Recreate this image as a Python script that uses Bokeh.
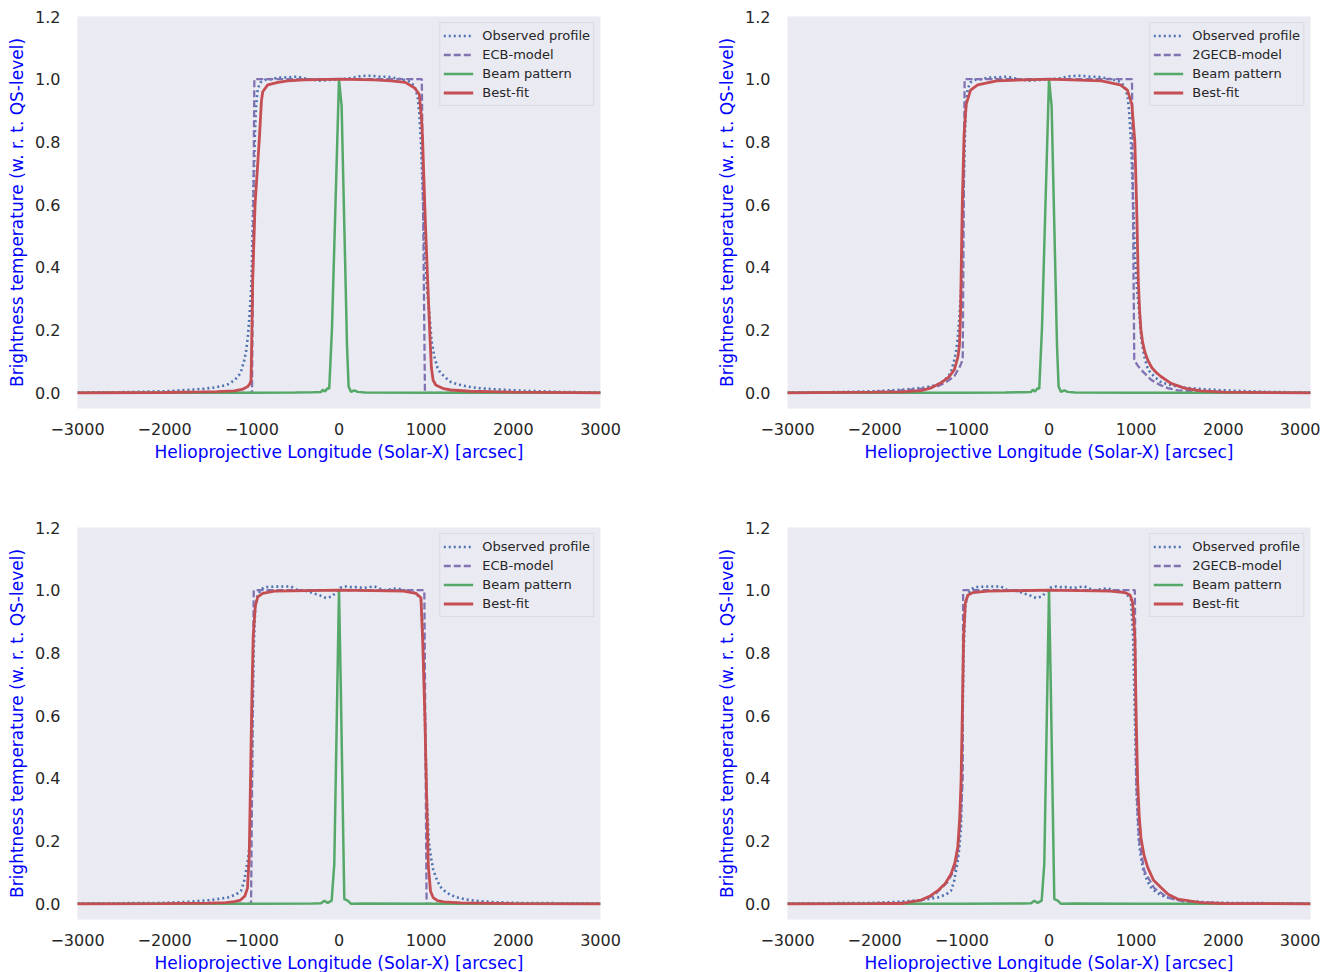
from bokeh.plotting import figure
from bokeh.layouts import column, row
from bokeh.models import FixedTicker, CustomJSTickFormatter, Range1d
from bokeh.embed import file_html
from bokeh.resources import INLINE

# ---------------- data ----------------
x_ticks = [-3000, -2000, -1000, 0, 1000, 2000, 3000]
y_ticks = [0.0, 0.2, 0.4, 0.6, 0.8, 1.0, 1.2]
x_label = "Helioprojective Longitude (Solar-X) [arcsec]"
y_label = "Brightness temperature (w. r. t. QS-level)"
legend_labels_top_left = ["Observed profile", "ECB-model", "Beam pattern", "Best-fit"]
legend_labels_2gecb = ["Observed profile", "2GECB-model", "Beam pattern", "Best-fit"]

# observed profile, top row
obs_top_x = [-3000, -2500, -2000, -1750, -1583, -1450, -1353, -1276, -1200, -1150, -1124, -1090,
             -1067, -1045, -1028, -1010, -1001, -985, -963, -952, -932, -900, -850, -780, -700,
             -600, -474, -350, -206, -100, 0, 100, 252, 329, 405, 480, 558, 640, 711, 780, 826,
             870, 902, 921, 940, 960, 985, 1010, 1036, 1060, 1093, 1130, 1160, 1208, 1280, 1361,
             1476, 1600, 1743, 1858, 2000, 2500, 3000]
obs_top_y = [0.001, 0.002, 0.005, 0.009, 0.012, 0.016, 0.021, 0.027, 0.04, 0.055, 0.068, 0.1,
             0.13, 0.18, 0.24, 0.32, 0.38, 0.6, 0.84, 0.915, 0.97, 0.99, 0.998, 1.0, 1.005,
             1.006, 1.008, 1.0, 0.995, 0.998, 1.0, 1.002, 1.01, 1.011, 1.01, 1.008, 1.008, 1.004,
             1.0, 0.996, 0.99, 0.975, 0.945, 0.89, 0.8, 0.65, 0.45, 0.33, 0.255, 0.17, 0.116,
             0.08, 0.065, 0.052, 0.035, 0.027, 0.02, 0.015, 0.012, 0.01, 0.008, 0.003, 0.001]

# observed profile, bottom row
obs_bot_x = [-3000, -2000, -1697, -1468, -1276, -1180, -1124, -1090, -1067, -1045, -1028, -1009,
             -995, -980, -960, -932, -900, -856, -760, -665, -550, -474, -416, -340, -290, -206,
             -149, -80, -30, 15, 80, 138, 214, 272, 348, 405, 470, 520, 600, 673, 750, 845, 900,
             940, 965, 985, 1005, 1030, 1055, 1080, 1112, 1160, 1208, 1280, 1361, 1450, 1552,
             1743, 2000, 3000]
obs_bot_y = [0.001, 0.003, 0.007, 0.012, 0.02, 0.03, 0.042, 0.07, 0.105, 0.14, 0.18, 0.25,
             0.5, 0.8, 0.95, 0.985, 1.0, 1.01, 1.011, 1.012, 1.012, 1.0, 1.0, 0.995, 0.99, 0.982,
             0.975, 0.98, 0.995, 1.008, 1.012, 1.01, 1.01, 1.007, 1.01, 1.012, 1.005, 1.0, 1.003,
             1.006, 1.0, 0.995, 0.985, 0.97, 0.85, 0.6, 0.35, 0.2, 0.148, 0.11, 0.084, 0.055,
             0.042, 0.028, 0.02, 0.014, 0.01, 0.006, 0.003, 0.001]

# models
ecb_top_x = [-3000, -998, -971, 950, 986, 3000]
ecb_top_y = [0.0, 0.0, 1.0, 1.0, 0.0, 0.0]
ecb_bot_x = [-3000, -1009, -978, 979, 1005, 3000]
ecb_bot_y = [0.0, 0.0, 1.0, 1.0, 0.0, 0.0]

gecb_top_x = [-3000, -2000, -1545, -1400, -1276, -1180, -1086, -1020, -990, -968, 952, 978,
              1010, 1055, 1170, 1260, 1361, 1475, 1700, 2000, 3000]
gecb_top_y = [0.0, 0.002, 0.011, 0.015, 0.021, 0.034, 0.053, 0.085, 0.106, 1.0, 1.0, 0.106,
              0.09, 0.074, 0.042, 0.027, 0.015, 0.008, 0.003, 0.001, 0.0]
gecb_bot_x = [-3000, -2000, -1700, -1476, -1315, -1162, -1086, -1047, -1028, -1010, -990, -985,
              985, 1000, 1017, 1036, 1093, 1208, 1361, 1550, 2000, 3000]
gecb_bot_y = [0.0, 0.001, 0.003, 0.01, 0.028, 0.07, 0.11, 0.16, 0.22, 0.28, 0.4, 1.0,
              1.0, 0.4, 0.29, 0.2, 0.105, 0.05, 0.02, 0.007, 0.001, 0.0]

# beam patterns
beam_top_x = [-3000, -1000, -500, -300, -206, -187, -160, -130, -112, -80, 0, 30, 92, 110,
              138, 176, 214, 300, 1000, 3000]
beam_top_y = [0.0, 0.0005, 0.001, 0.002, 0.003, 0.01, 0.004, 0.015, 0.013, 0.21, 1.0, 0.914,
              0.15, 0.02, 0.003, 0.008, 0.003, 0.001, 0.0005, 0.0]
beam_bot_x = [-3000, -1000, -300, -206, -168, -130, -84, -54, 0, 20, 54, 61, 100, 138, 300,
              1000, 3000]
beam_bot_y = [0.0, 0.0005, 0.001, 0.002, 0.01, 0.003, 0.01, 0.127, 1.0, 0.7, 0.127, 0.015,
              0.01, 0.0, 0.001, 0.0005, 0.0]

# best fits
fit_tl_x = [-3000, -2000, -1583, -1400, -1200, -1100, -1047, -1020, -1009, -990, -963, -914,
            -890, -875, -818, -700, -588, -400, 0, 400, 600, 760, 864, 921, 948, 960, 990,
            1017, 1040, 1060, 1080, 1110, 1200, 1284, 1500, 1858, 2000, 3000]
fit_tl_y = [0.0, 0.001, 0.003, 0.004, 0.006, 0.012, 0.02, 0.03, 0.04, 0.36, 0.6, 0.81,
            0.93, 0.96, 0.982, 0.99, 0.995, 0.998, 1.0, 0.998, 0.995, 0.99, 0.973, 0.952,
            0.87, 0.8, 0.55, 0.36, 0.2, 0.08, 0.04, 0.025, 0.013, 0.009, 0.005, 0.003, 0.002, 0.0]
fit_tr_x = [-3000, -2000, -1697, -1468, -1350, -1239, -1150, -1086, -1045, -1028, -1015, -1009,
            -995, -975, -950, -900, -818, -600, 0, 600, 818, 900, 950, 985, 1005, 1024, 1040,
            1055, 1075, 1100, 1132, 1180, 1230, 1284, 1400, 1552, 1743, 2000, 3000]
fit_tr_y = [0.0, 0.002, 0.003, 0.007, 0.016, 0.032, 0.05, 0.074, 0.115, 0.149, 0.25, 0.36,
            0.6, 0.82, 0.92, 0.965, 0.982, 0.995, 1.0, 0.995, 0.982, 0.965, 0.92, 0.8, 0.6,
            0.36, 0.26, 0.2, 0.16, 0.13, 0.105, 0.08, 0.065, 0.052, 0.03, 0.015, 0.006, 0.002, 0.0]
fit_bl_x = [-3000, -2000, -1500, -1300, -1200, -1130, -1080, -1050, -1030, -1015, -1000, -985,
            -960, -932, -875, -741, 0, 741, 883, 940, 960, 985, 1005, 1025, 1050, 1080, 1130,
            1200, 1400, 2000, 3000]
fit_bl_y = [0.0, 0.0005, 0.002, 0.004, 0.007, 0.012, 0.025, 0.05, 0.15, 0.4, 0.65, 0.85,
            0.95, 0.979, 0.99, 0.997, 1.0, 0.997, 0.99, 0.976, 0.84, 0.6, 0.35, 0.12, 0.04,
            0.02, 0.01, 0.006, 0.003, 0.0005, 0.0]
fit_br_x = [-3000, -2000, -1697, -1468, -1370, -1276, -1190, -1124, -1080, -1047, -1025, -1009,
            -995, -980, -960, -930, -875, -700, 0, 700, 875, 930, 960, 985, 1000, 1017, 1035,
            1055, 1090, 1132, 1200, 1284, 1370, 1476, 1743, 2000, 3000]
fit_br_y = [0.0, 0.0005, 0.001, 0.012, 0.024, 0.042, 0.065, 0.095, 0.13, 0.18, 0.27, 0.39,
            0.6, 0.85, 0.96, 0.985, 0.992, 0.997, 1.0, 0.997, 0.992, 0.985, 0.96, 0.85, 0.6,
            0.39, 0.28, 0.21, 0.155, 0.116, 0.075, 0.052, 0.03, 0.015, 0.004, 0.001, 0.0]

# ---------------- style ----------------
BLUE = "#4C72B0"
PURPLE = "#8172B2"
GREEN = "#55A868"
RED = "#C44E52"
BG = "#EAEAF2"
FONT = "DejaVu Sans"

PLOT_W = 523
PLOT_H = 392


def make_panel(obs, model, beam, fit, labels, left, right, top, bottom):
    p = figure(frame_width=PLOT_W, frame_height=PLOT_H,
               x_range=Range1d(-3000, 3000), y_range=Range1d(-0.05, 1.2),
               output_backend="svg", toolbar_location=None,
               min_border_left=left, min_border_right=right,
               min_border_top=top, min_border_bottom=bottom)
    p.background_fill_color = BG
    p.border_fill_color = "white"
    p.outline_line_color = None
    p.xgrid.visible = False
    p.ygrid.visible = False

    p.line(obs[0], obs[1], color=BLUE, line_width=2.6, line_dash="2 3",
           legend_label=labels[0])
    p.line(model[0], model[1], color=PURPLE, line_width=2.3, line_dash="7 3",
           legend_label=labels[1])
    p.line(beam[0], beam[1], color=GREEN, line_width=2.5, legend_label=labels[2])
    p.line(fit[0], fit[1], color=RED, line_width=2.8, legend_label=labels[3])

    for ax in (p.xaxis[0], p.yaxis[0]):
        ax.axis_line_color = None
        ax.major_tick_line_color = None
        ax.minor_tick_line_color = None
        ax.major_label_text_font = FONT
        ax.major_label_text_font_size = "16px"
        ax.major_label_text_color = "#262626"
        ax.axis_label_text_font = FONT
        ax.axis_label_text_font_size = "17px"
        ax.axis_label_text_font_style = "normal"
        ax.axis_label_text_color = "blue"

    p.xaxis.ticker = FixedTicker(ticks=x_ticks)
    p.yaxis.ticker = FixedTicker(ticks=y_ticks)
    p.xaxis.formatter = CustomJSTickFormatter(
        code="return (tick < 0 ? '\u2212' : '') + Math.abs(tick).toFixed(0);")
    p.yaxis.formatter = CustomJSTickFormatter(code="return tick.toFixed(1);")
    p.xaxis.axis_label = x_label
    p.yaxis.axis_label = y_label
    p.xaxis.major_label_standoff = 8
    p.xaxis.axis_label_standoff = 4
    p.yaxis.major_label_standoff = 11
    p.yaxis.axis_label_standoff = 5

    lg = p.legend[0]
    lg.location = "top_right"
    lg.margin = 6
    lg.padding = 3
    lg.spacing = 0
    lg.label_height = 19
    lg.glyph_height = 19
    lg.glyph_width = 30
    lg.label_standoff = 9
    lg.label_text_font = FONT
    lg.label_text_font_size = "13px"
    lg.label_text_color = "#262626"
    lg.background_fill_color = BG
    lg.background_fill_alpha = 0.8
    lg.border_line_color = "#CCCCCC"
    lg.border_line_width = 1
    return p


p1 = make_panel((obs_top_x, obs_top_y), (ecb_top_x, ecb_top_y), (beam_top_x, beam_top_y),
                (fit_tl_x, fit_tl_y), legend_labels_top_left, 77, 114, 16, 103)
p2 = make_panel((obs_top_x, obs_top_y), (gecb_top_x, gecb_top_y), (beam_top_x, beam_top_y),
                (fit_tr_x, fit_tr_y), legend_labels_2gecb, 69, 10, 16, 103)
p3 = make_panel((obs_bot_x, obs_bot_y), (ecb_bot_x, ecb_bot_y), (beam_bot_x, beam_bot_y),
                (fit_bl_x, fit_bl_y), legend_labels_top_left, 77, 114, 16, 48)
p4 = make_panel((obs_bot_x, obs_bot_y), (gecb_bot_x, gecb_bot_y), (beam_bot_x, beam_bot_y),
                (fit_br_x, fit_br_y), legend_labels_2gecb, 69, 10, 16, 48)

layout = column(row(p1, p2), row(p3, p4))

with open("out.html", "w") as f:
    f.write(file_html(layout, INLINE))
